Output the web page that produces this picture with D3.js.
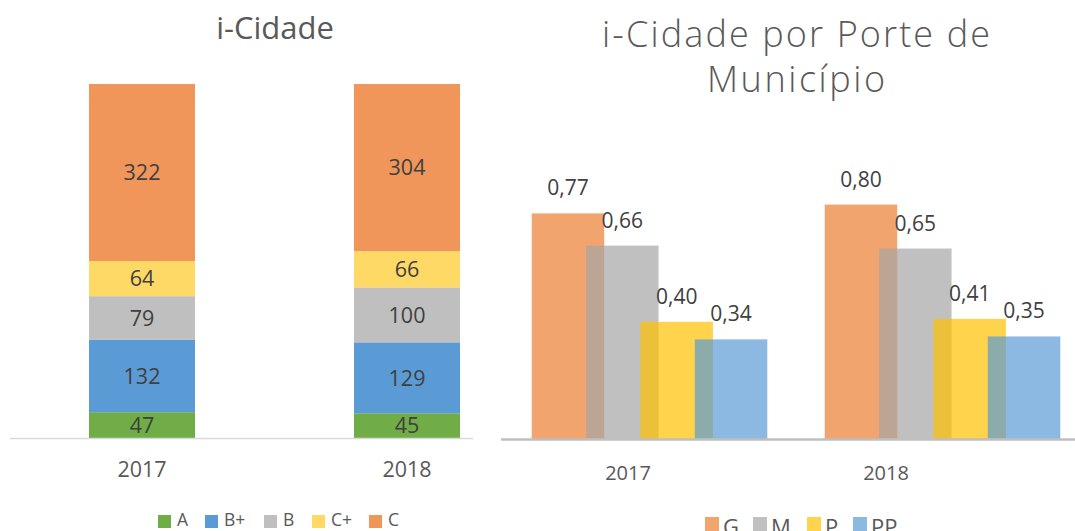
<!DOCTYPE html>
<html>
<head>
<meta charset="utf-8">
<script src="https://cdn.jsdelivr.net/npm/d3@7"></script>
<style>
  html, body { margin: 0; padding: 0; background: #fff; }
  svg { display: block; font-family: "Open Sans", "Liberation Sans", sans-serif; }
</style>
</head>
<body>
<svg id="chart" width="1075" height="531"></svg>
<script>
// Left panel: i-Cidade counts by class, stacked per year
const years = ["2017", "2018"];
const classes = ["A", "B+", "B", "C+", "C"];
const countA  = [47, 45];
const countBp = [132, 129];
const countB  = [79, 100];
const countCp = [64, 66];
const countC  = [322, 304];
const classColors = ["#70AD47", "#5B9BD5", "#BFBFBF", "#FFD966", "#F1965A"];

// Right panel: average index by municipality size
const sizes = ["G", "M", "P", "PP"];
const indexG  = [0.77, 0.80];
const indexM  = [0.66, 0.65];
const indexP  = [0.40, 0.41];
const indexPP = [0.34, 0.35];
const sizeColors = ["#ED7D31", "#A5A5A5", "#FFC000", "#5B9BD5"];

const svg = d3.select("#chart");
const textColor = "#595959";
const labelColor = "#404040";
const fontStack = "'Open Sans', 'Liberation Sans', sans-serif";

// ---------- Left chart ----------
const left = svg.append("g");
const xL = d3.scaleBand().domain(years).range([9.5, 539.5]).paddingInner(0.6).paddingOuter(0.3);
const yL = d3.scaleLinear().domain([0, 644]).range([438, 84]);

const countTable = years.map((yr, i) => ({
  year: yr, A: countA[i], "B+": countBp[i], B: countB[i], "C+": countCp[i], C: countC[i]
}));
const stacked = d3.stack().keys(classes)(countTable);

left.append("text")
  .attr("x", 275).attr("y", 39)
  .attr("text-anchor", "middle")
  .attr("font-size", 31)
  .attr("fill", textColor)
  .text("i-Cidade");

const layer = left.selectAll("g.layer").data(stacked).join("g")
  .attr("class", "layer")
  .attr("fill", (d, i) => classColors[i]);

layer.selectAll("rect").data(d => d).join("rect")
  .attr("x", d => xL(d.data.year))
  .attr("width", xL.bandwidth())
  .attr("y", d => yL(d[1]))
  .attr("height", d => yL(d[0]) - yL(d[1]));

layer.selectAll("text").data(d => d.map(s => ({ s, key: d.key }))).join("text")
  .attr("x", d => xL(d.s.data.year) + xL.bandwidth() / 2)
  .attr("y", d => (yL(d.s[0]) + yL(d.s[1])) / 2)
  .attr("dy", "0.36em")
  .attr("text-anchor", "middle")
  .attr("font-size", 21.5)
  .attr("fill", labelColor)
  .text(d => d.s.data[d.key]);

left.append("line")
  .attr("x1", 10).attr("x2", 473)
  .attr("y1", 438.5).attr("y2", 438.5)
  .attr("stroke", "#D9D9D9").attr("stroke-width", 1.5);

const axL = left.append("g")
  .attr("transform", "translate(0,440)")
  .call(d3.axisBottom(xL).tickSize(0).tickPadding(0));
axL.select(".domain").remove();
axL.selectAll("text")
  .attr("y", 37).attr("dy", 0)
  .attr("font-family", fontStack)
  .attr("font-size", 21.5)
  .attr("fill", textColor);

// Left legend
const legL = left.append("g").attr("transform", "translate(0,526)");
const legLX = [158, 205, 264, 312, 369];
classes.forEach((c, i) => {
  legL.append("rect").attr("x", legLX[i]).attr("y", -11).attr("width", 13).attr("height", 13)
    .attr("fill", classColors[i]);
  legL.append("text").attr("x", legLX[i] + 19).attr("y", 0)
    .attr("font-size", 17.5).attr("fill", textColor).text(c);
});

// ---------- Right chart ----------
const right = svg.append("g");
const x0 = d3.scaleBand().domain(years).range([503, 1089]).paddingInner(0.196).paddingOuter(0.098);
const barW = 72.5;
const x1 = d3.scalePoint().domain(sizes).range([0, x0.bandwidth() - barW]);
const yR = d3.scaleLinear().domain([0, 1]).range([439, 146]);

const titleR = right.append("text")
  .attr("text-anchor", "middle")
  .attr("font-size", 36)
  .attr("font-weight", 300)
  .attr("fill", textColor);
titleR.append("tspan").attr("x", 796).attr("y", 47)
  .attr("textLength", 388).attr("lengthAdjust", "spacing").text("i-Cidade por Porte de");
titleR.append("tspan").attr("x", 796).attr("y", 92)
  .attr("textLength", 178).attr("lengthAdjust", "spacing").text("Município");

const sizeSeries = [indexG, indexM, indexP, indexPP];
sizes.forEach((s, si) => {
  const g = right.append("g");
  g.selectAll("rect").data(years).join("rect")
    .attr("x", yr => x0(yr) + x1(s))
    .attr("width", barW)
    .attr("y", (yr, i) => yR(sizeSeries[si][i]))
    .attr("height", (yr, i) => yR(0) - yR(sizeSeries[si][i]))
    .attr("fill", sizeColors[si])
    .attr("fill-opacity", 0.7);
});
// value labels above bars
sizes.forEach((s, si) => {
  right.append("g").selectAll("text").data(years).join("text")
    .attr("x", yr => x0(yr) + x1(s) + barW / 2)
    .attr("y", (yr, i) => yR(sizeSeries[si][i]) - 18)
    .attr("text-anchor", "middle")
    .attr("font-size", 21)
    .attr("fill", labelColor)
    .text((yr, i) => d3.format(".2f")(sizeSeries[si][i]).replace(".", ","));
});

right.append("line")
  .attr("x1", 501).attr("x2", 1075)
  .attr("y1", 439.5).attr("y2", 439.5)
  .attr("stroke", "#BFBFBF").attr("stroke-width", 2.5);

const xLab = d3.scaleBand().domain(years).range([499, 1015]);
const axR = right.append("g")
  .attr("transform", "translate(0,441)")
  .call(d3.axisBottom(xLab).tickSize(0).tickPadding(0));
axR.select(".domain").remove();
axR.selectAll("text")
  .attr("y", 39).attr("dy", 0)
  .attr("font-family", fontStack)
  .attr("font-size", 20)
  .attr("fill", textColor);

// Right legend
const legR = right.append("g").attr("transform", "translate(0,535)");
const legRX = [705, 753, 807, 853];
sizes.forEach((s, i) => {
  legR.append("rect").attr("x", legRX[i]).attr("y", -18).attr("width", 14).attr("height", 14)
    .attr("fill", sizeColors[i]).attr("fill-opacity", 0.7);
  legR.append("text").attr("x", legRX[i] + 18).attr("y", 0)
    .attr("font-size", 22).attr("fill", textColor).text(s);
});
</script>
</body>
</html>
